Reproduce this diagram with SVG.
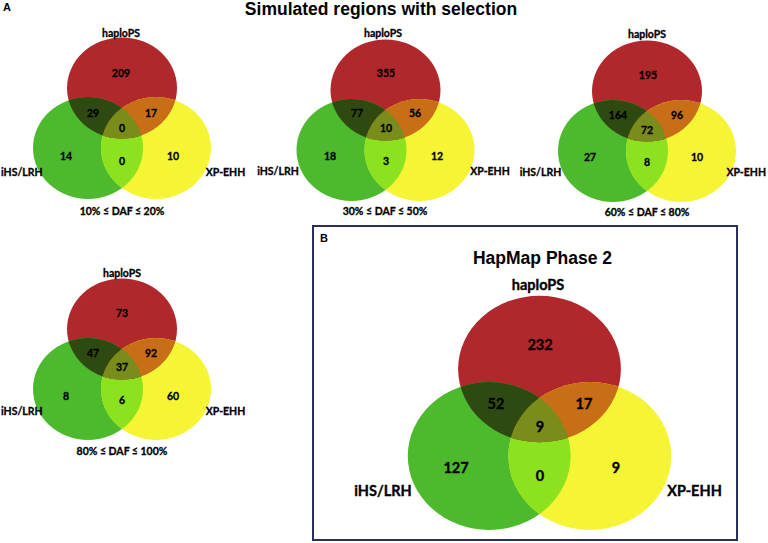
<svg xmlns="http://www.w3.org/2000/svg" xmlns:xlink="http://www.w3.org/1999/xlink" width="768" height="543" viewBox="0 0 768 543">
<style>
.r{fill:#b0282c}.g{fill:#4dba2e}.y{fill:#f5f536}
.rg{fill:#2f4a10}.ry{fill:#c86e16}.gy{fill:#8ce21e}.c{fill:#7a8c1c}
text{font-family:Lato,"Liberation Sans",Arial,sans-serif;font-weight:700;fill:#000}
.s{font-size:10.5px;text-anchor:middle;stroke:#000;stroke-width:0.3}
.b{font-size:14.5px;text-anchor:middle;stroke:#000;stroke-width:0.35}
.st{text-anchor:start}
.en{text-anchor:end}
.h{font-family:"Liberation Sans",Arial,sans-serif;font-size:17.5px;text-anchor:middle}
.p{font-family:"Liberation Sans",Arial,sans-serif;font-size:11px}
</style>
<defs>
<ellipse id="eR" cx="0" cy="0" rx="55" ry="50.5"/>
<ellipse id="eG" cx="-34" cy="60" rx="55" ry="51"/>
<ellipse id="eY" cx="34" cy="60" rx="55" ry="51"/>
<clipPath id="cR"><use href="#eR"/></clipPath>
<clipPath id="cG"><use href="#eG"/></clipPath>
<g id="venn">
<use href="#eR" class="r"/>
<use href="#eG" class="g"/>
<use href="#eY" class="y"/>
<use href="#eY" class="gy" clip-path="url(#cG)"/>
<use href="#eG" class="rg" clip-path="url(#cR)"/>
<use href="#eY" class="ry" clip-path="url(#cR)"/>
<g clip-path="url(#cG)"><use href="#eY" class="c" clip-path="url(#cR)"/></g>
</g>
</defs>
<rect width="768" height="543" fill="#fff"/>
<text class="p" x="3" y="11">A</text>
<text class="h" x="381" y="15">Simulated regions with selection</text>

<g id="venn1">
<use href="#venn" transform="translate(122,88)"/>
<text class="s" x="121" y="36.5">haploPS</text>
<text class="s" x="121" y="76.5">209</text>
<text class="s" x="93" y="116.5">29</text>
<text class="s" x="151" y="116.5">17</text>
<text class="s" x="122" y="131.5">0</text>
<text class="s" x="66" y="159.5">14</text>
<text class="s" x="122" y="164.5">0</text>
<text class="s" x="173" y="159.5">10</text>
<text class="s st" x="1" y="175.5">iHS/LRH</text>
<text class="s" x="225.5" y="175.5">XP-EHH</text>
<text class="s" x="122" y="214.5">10% ≤ DAF ≤ 20%</text>
</g>

<g id="venn2">
<use href="#venn" transform="translate(385.5,90)"/>
<text class="s" x="383" y="36.5">haploPS</text>
<text class="s" x="386" y="76.5">355</text>
<text class="s" x="357" y="116.5">77</text>
<text class="s" x="415" y="116.5">56</text>
<text class="s" x="386" y="131.5">10</text>
<text class="s" x="330" y="159.5">18</text>
<text class="s" x="386" y="164.5">3</text>
<text class="s" x="437" y="159.5">12</text>
<text class="s" x="278" y="174.5">iHS/LRH</text>
<text class="s" x="490" y="174.5">XP-EHH</text>
<text class="s" x="385" y="214.5">30% ≤ DAF ≤ 50%</text>
</g>

<g id="venn3">
<use href="#venn" transform="translate(647,91)"/>
<text class="s" x="647" y="37.5">haploPS</text>
<text class="s" x="648" y="78.5">195</text>
<text class="s" x="618" y="118.5">164</text>
<text class="s" x="677" y="118.5">96</text>
<text class="s" x="647" y="133.5">72</text>
<text class="s" x="590" y="160.5">27</text>
<text class="s" x="647" y="165.5">8</text>
<text class="s" x="697" y="160.5">10</text>
<text class="s" x="540.5" y="175.5">iHS/LRH</text>
<text class="s en" x="766" y="175.5">XP-EHH</text>
<text class="s" x="647" y="215.5">60% ≤ DAF ≤ 80%</text>
</g>

<g id="venn4">
<use href="#venn" transform="translate(122,329)"/>
<text class="s" x="122" y="276.5">haploPS</text>
<text class="s" x="122" y="316.5">73</text>
<text class="s" x="93" y="356.5">47</text>
<text class="s" x="151" y="356.5">92</text>
<text class="s" x="122" y="370.5">37</text>
<text class="s" x="66" y="399.5">8</text>
<text class="s" x="122" y="403.5">6</text>
<text class="s" x="173" y="399.5">60</text>
<text class="s st" x="1" y="414.5">iHS/LRH</text>
<text class="s" x="225.5" y="414.5">XP-EHH</text>
<text class="s" x="122" y="454.5">80% ≤ DAF ≤ 100%</text>
</g>

<g id="panelB">
<rect x="313" y="226" width="424" height="314" fill="none" stroke="#283159" stroke-width="2"/>
<text class="p" x="320" y="242">B</text>
<text class="h" x="542.5" y="264">HapMap Phase 2</text>
<use href="#venn" transform="translate(539.5,369) scale(1.48,1.45)"/>
<text class="b" x="538" y="290">haploPS</text>
<text class="b" x="540" y="350">232</text>
<text class="b" x="496" y="409">52</text>
<text class="b" x="584" y="409">17</text>
<text class="b" x="540" y="432">9</text>
<text class="b" x="456" y="473">127</text>
<text class="b" x="540" y="481">0</text>
<text class="b" x="616" y="473">9</text>
<text class="b" x="383" y="496">iHS/LRH</text>
<text class="b" x="694.5" y="496">XP-EHH</text>
</g>
</svg>
